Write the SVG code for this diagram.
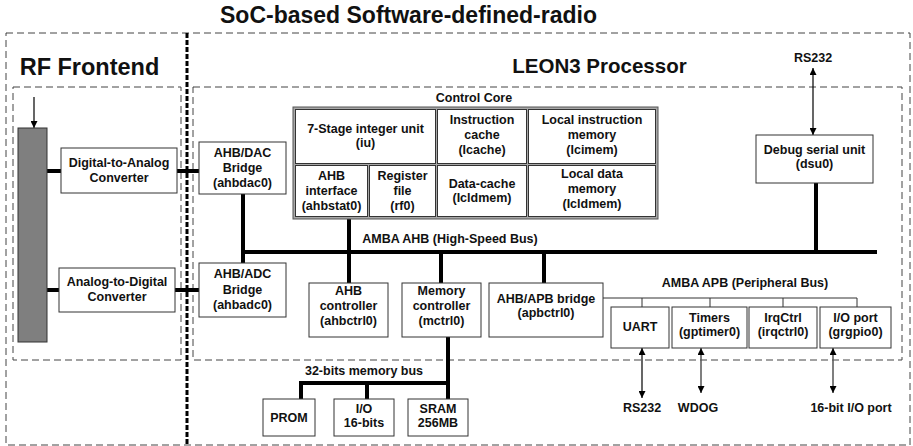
<svg xmlns="http://www.w3.org/2000/svg" width="913" height="446" viewBox="0 0 913 446">
<defs>
<style>
text{font-family:"Liberation Sans",Arial,sans-serif;font-weight:bold;fill:#111;text-anchor:middle;font-size:12.5px}
.box{fill:#fff;stroke:#333;stroke-width:1}
.bus{stroke:#000;stroke-width:4;fill:none}
.thin{stroke:#333;stroke-width:1;fill:none}
.dash{fill:none;stroke:#444;stroke-width:1;stroke-dasharray:7 4}
.arr{stroke:#000;stroke-width:1.2;fill:none}
.garr{stroke:#555;stroke-width:1.5;fill:none}
</style>
<marker id="ah" viewBox="0 0 10 10" refX="10" refY="5" markerWidth="7" markerHeight="7" orient="auto-start-reverse" markerUnits="userSpaceOnUse">
<path d="M0,0 L10,5 L0,10 z" fill="#000"/>
</marker>
</defs>
<rect width="913" height="446" fill="#fff"/>

<text x="408.5" y="23" style="font-size:23px">SoC-based Software-defined-radio</text>

<g id="frames">
<rect class="dash" x="6" y="33" width="904" height="412"/>
<rect class="dash" x="13" y="87" width="168" height="273"/>
<rect class="dash" x="193" y="87" width="709" height="273"/>
<line x1="187" y1="33" x2="187" y2="446" stroke="#000" stroke-width="3" stroke-dasharray="5 2"/>
<text x="89.5" y="75" style="font-size:23.5px">RF Frontend</text>
<text x="599.5" y="73" style="font-size:20.5px">LEON3 Processor</text>
</g>

<g id="connectors">
<line class="arr" x1="34" y1="97" x2="34" y2="128" marker-end="url(#ah)"/>
<line class="bus" x1="47" y1="171" x2="61" y2="171"/>
<line class="bus" x1="177" y1="171" x2="199" y2="171"/>
<line class="bus" x1="47" y1="290" x2="59" y2="290"/>
<line class="bus" x1="175" y1="290" x2="199" y2="290"/>
<line class="bus" x1="241" y1="252" x2="877" y2="252"/>
<line class="bus" x1="243" y1="194" x2="243" y2="263"/>
<line class="bus" x1="349" y1="219" x2="349" y2="283"/>
<line class="bus" x1="441" y1="252" x2="441" y2="283"/>
<line class="bus" x1="544" y1="252" x2="544" y2="283"/>
<line class="bus" x1="816" y1="183" x2="816" y2="252"/>
<line class="bus" x1="448" y1="337" x2="448" y2="399"/>
<line class="bus" x1="299" y1="383" x2="450" y2="383"/>
<line class="bus" x1="301" y1="381" x2="301" y2="399"/>
<line class="bus" x1="367" y1="383" x2="367" y2="399"/>
<polyline class="thin" points="603,298 857,298 857,307"/>
<line class="thin" x1="642" y1="298" x2="642" y2="307"/>
<line class="thin" x1="710" y1="298" x2="710" y2="307"/>
<line class="thin" x1="783" y1="298" x2="783" y2="307"/>
<line class="arr" x1="813" y1="68" x2="813" y2="135" marker-start="url(#ah)" marker-end="url(#ah)"/>
<line class="arr" x1="642" y1="348" x2="642" y2="398" marker-start="url(#ah)" marker-end="url(#ah)"/>
<line class="garr" x1="701" y1="348" x2="701" y2="393" marker-start="url(#ah)" marker-end="url(#ah)"/>
<line class="garr" x1="833" y1="348" x2="833" y2="393" marker-start="url(#ah)" marker-end="url(#ah)"/>
<text x="450" y="243">AMBA AHB (High-Speed Bus)</text>
<text x="745" y="287">AMBA APB (Peripheral Bus)</text>
<text x="364" y="375">32-bits memory bus</text>
<text x="813" y="62">RS232</text>
<text x="642" y="412">RS232</text>
<text x="698" y="412">WDOG</text>
<text x="851" y="412">16-bit I/O port</text>
</g>

<g id="rfbar"><rect x="18" y="128" width="29" height="214" fill="#7f7f7f" stroke="#333"/></g>

<g id="dac"><rect class="box" x="61" y="148" width="116" height="45"/>
<text x="119" y="167">Digital-to-Analog</text><text x="119" y="182">Converter</text></g>
<g id="adc"><rect class="box" x="59" y="268" width="116" height="44"/>
<text x="117" y="286">Analog-to-Digital</text><text x="117" y="301">Converter</text></g>

<g id="ahbdac"><rect class="box" x="199" y="142" width="87" height="52"/>
<text x="242.5" y="157">AHB/DAC</text><text x="242.5" y="172">Bridge</text><text x="242.5" y="187">(ahbdac0)</text></g>
<g id="ahbadc"><rect class="box" x="199" y="263" width="87" height="54"/>
<text x="242.5" y="278">AHB/ADC</text><text x="242.5" y="293.5">Bridge</text><text x="242.5" y="309">(ahbadc0)</text></g>

<g id="controlcore">
<text x="474" y="102">Control Core</text>
<rect x="293" y="107" width="365" height="112" fill="#a8a8a8" stroke="#555"/>
<rect class="box" x="295.5" y="109.5" width="140" height="54"/>
<rect class="box" x="437.5" y="109.5" width="89" height="54"/>
<rect class="box" x="528.5" y="109.5" width="127" height="54"/>
<rect class="box" x="295.5" y="165.5" width="72" height="51"/>
<rect class="box" x="369.5" y="165.5" width="66" height="51"/>
<rect class="box" x="437.5" y="165.5" width="89" height="51"/>
<rect class="box" x="528.5" y="165.5" width="127" height="51"/>
<text x="365.5" y="133">7-Stage integer unit</text><text x="365.5" y="147">(iu)</text>
<text x="482" y="124">Instruction</text><text x="482" y="139">cache</text><text x="482" y="154">(Icache)</text>
<text x="592" y="124">Local instruction</text><text x="592" y="139">memory</text><text x="592" y="154">(Icimem)</text>
<text x="331.5" y="180">AHB</text><text x="331.5" y="195">interface</text><text x="331.5" y="209.5">(ahbstat0)</text>
<text x="402.5" y="180">Register</text><text x="402.5" y="195">file</text><text x="402.5" y="209.5">(rf0)</text>
<text x="482" y="187.5">Data-cache</text><text x="482" y="202">(Icldmem)</text>
<text x="592" y="178">Local data</text><text x="592" y="193">memory</text><text x="592" y="207.5">(Icldmem)</text>
</g>

<g id="dsu"><rect class="box" x="756" y="135" width="117" height="48"/>
<text x="814.5" y="154">Debug serial unit</text><text x="814.5" y="168">(dsu0)</text></g>

<g id="ahbctrl"><rect class="box" x="309" y="283" width="79" height="54"/>
<text x="348.5" y="295">AHB</text><text x="348.5" y="310">controller</text><text x="348.5" y="325">(ahbctrl0)</text></g>
<g id="mctrl"><rect class="box" x="402" y="283" width="79" height="54"/>
<text x="441.5" y="295">Memory</text><text x="441.5" y="310">controller</text><text x="441.5" y="325">(mctrl0)</text></g>
<g id="apbctrl"><rect class="box" x="489" y="283" width="114" height="54"/>
<text x="546" y="303">AHB/APB bridge</text><text x="546" y="317">(apbctrl0)</text></g>

<g id="uart"><rect class="box" x="611" y="307" width="58" height="41"/><text x="640" y="331">UART</text></g>
<g id="timers"><rect class="box" x="672" y="307" width="75" height="41"/>
<text x="709.5" y="322">Timers</text><text x="709.5" y="336">(gptimer0)</text></g>
<g id="irqctrl"><rect class="box" x="749" y="307" width="68" height="41"/>
<text x="783" y="322">IrqCtrl</text><text x="783" y="336">(irqctrl0)</text></g>
<g id="gpio"><rect class="box" x="820" y="307" width="71" height="41"/>
<text x="855.5" y="322">I/O port</text><text x="855.5" y="336">(grgpio0)</text></g>

<g id="prom"><rect class="box" x="263" y="399" width="52" height="37"/><text x="289" y="422">PROM</text></g>
<g id="io16"><rect class="box" x="334" y="399" width="60" height="37"/>
<text x="364" y="413">I/O</text><text x="364" y="427">16-bits</text></g>
<g id="sram"><rect class="box" x="408" y="399" width="60" height="37"/>
<text x="438" y="413">SRAM</text><text x="438" y="427">256MB</text></g>
</svg>
